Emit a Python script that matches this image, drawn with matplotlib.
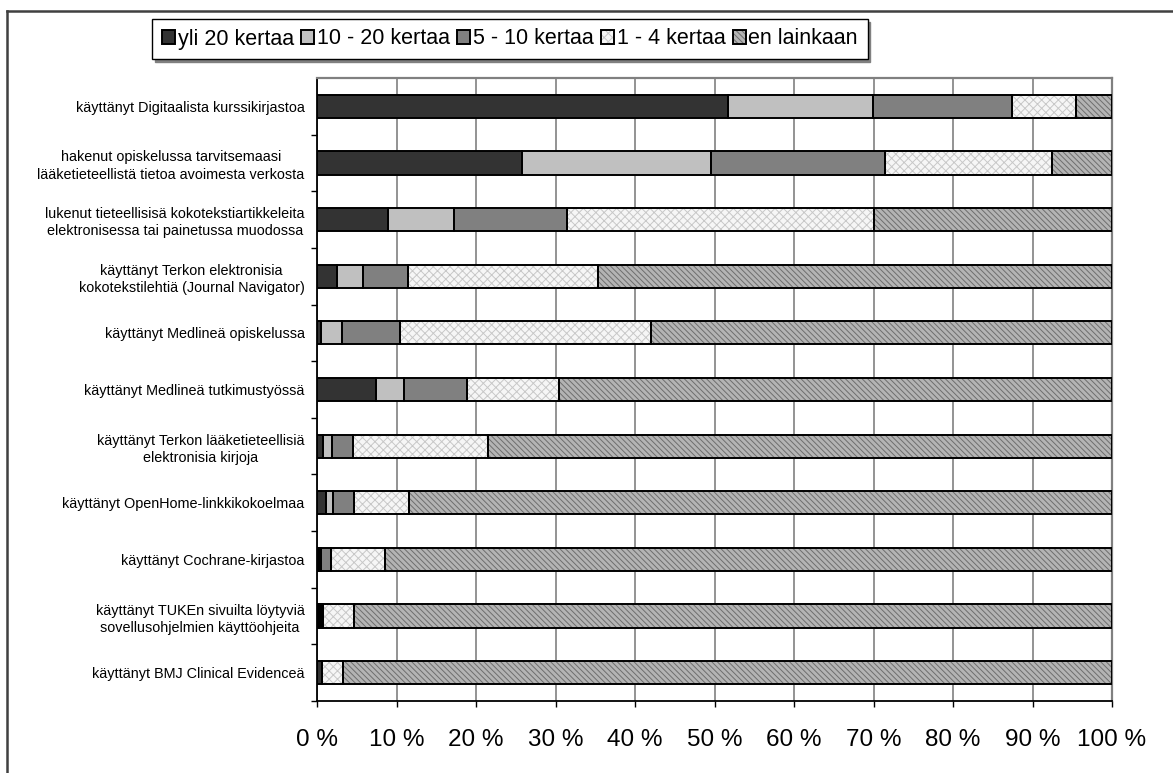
import matplotlib
matplotlib.use('Agg')
from matplotlib import pyplot as plt
from matplotlib.legend_handler import HandlerTuple
from matplotlib.lines import Line2D

plt.rcParams['font.family'] = ['Liberation Sans', 'DejaVu Sans']
plt.rcParams['hatch.linewidth'] = 0.7

categories = ['käyttänyt Digitaalista kurssikirjastoa',
              'hakenut opiskelussa tarvitsemaasi\nlääketieteellistä tietoa avoimesta verkosta',
              'lukenut tieteellisisä kokotekstiartikkeleita\nelektronisessa tai painetussa muodossa',
              'käyttänyt Terkon elektronisia\nkokotekstilehtiä (Journal Navigator)',
              'käyttänyt Medlineä opiskelussa',
              'käyttänyt Medlineä tutkimustyössä',
              'käyttänyt Terkon lääketieteellisiä\nelektronisia kirjoja',
              'käyttänyt OpenHome-linkkikokoelmaa',
              'käyttänyt Cochrane-kirjastoa',
              'käyttänyt TUKEn sivuilta löytyviä\nsovellusohjelmien käyttöohjeita',
              'käyttänyt BMJ Clinical Evidenceä']
series_names = ['yli 20 kertaa', '10 - 20 kertaa', '5 - 10 kertaa', '1 - 4 kertaa', 'en lainkaan']
yli20 = [51.7, 25.8, 8.9, 2.5, 0.5, 7.4, 0.7, 1.1, 0.3, 0.3, 0.6]
k10_20 = [18.2, 23.8, 8.3, 3.3, 2.6, 3.6, 1.2, 0.9, 0.2, 0.2, 0.0]
k5_10 = [17.5, 21.8, 14.3, 5.7, 7.4, 7.9, 2.6, 2.7, 1.3, 0.3, 0.0]
k1_4 = [8.1, 21.0, 38.5, 23.9, 31.5, 11.5, 17.0, 6.9, 6.7, 3.9, 2.7]
en_lainkaan = [4.5, 7.6, 30.0, 64.6, 58.0, 69.6, 78.5, 88.4, 91.5, 95.3, 96.7]
xticks = [0, 10, 20, 30, 40, 50, 60, 70, 80, 90, 100]

series = [yli20, k10_20, k5_10, k1_4, en_lainkaan]
faces = ['#333333', '#C0C0C0', '#808080', '#F6F6F6', '#B4B4B4']
hatches = [None, None, None, 'xxxx', '\\\\\\\\\\\\']
hatch_cols = ['#333333', '#C0C0C0', '#808080', '#C8C8C8', '#6E6E6E']

fig = plt.figure(figsize=(11.73, 7.73), dpi=100)
ax = fig.add_axes([317 / 1173, 72 / 773, 795 / 1173, 623 / 773])

ypos = list(range(len(categories)))
left = [0.0] * len(categories)
handles = []
for vals, fc, h, hc in zip(series, faces, hatches, hatch_cols):
    b1 = ax.barh(ypos, vals, left=left, height=0.41, color=fc, hatch=h,
                 edgecolor=hc, linewidth=0, zorder=2)
    b2 = ax.barh(ypos, vals, left=left, height=0.41, fill=False,
                 edgecolor='black', linewidth=1.4, zorder=3)
    handles.append((b1, b2))
    left = [a + v for a, v in zip(left, vals)]

ax.set_xlim(0, 100)
ax.set_ylim(len(categories) - 0.5, -0.5)
ax.set_xticks(xticks)
ax.set_xticklabels([f'{t} %' for t in xticks], fontsize=17.5)
ax.tick_params(axis='x', length=4, width=1, pad=16, colors='black')
ax.xaxis.grid(True, color='#808080', linewidth=1.2, zorder=0)
ax.set_axisbelow(True)

ax.set_yticks(ypos)
ax.set_yticklabels(categories, fontsize=10.4, ha='right', multialignment='center',
                   linespacing=1.3)
ax.tick_params(axis='y', which='major', length=0, pad=9)
ax.set_yticks([i - 0.5 for i in range(1, len(categories) + 1)], minor=True)
ax.tick_params(axis='y', which='minor', length=4, width=1, color='black')

for s in ['left', 'bottom']:
    ax.spines[s].set_color('black')
    ax.spines[s].set_linewidth(1.3)
for s in ['top', 'right']:
    ax.spines[s].set_color('#808080')
    ax.spines[s].set_linewidth(1.6)

leg = fig.legend(handles, series_names, loc='center', bbox_to_anchor=(510 / 1173, 1 - 39 / 773),
                 ncol=5, fontsize=15.5, frameon=True, fancybox=False,
                 shadow={'color': '#808080', 'alpha': 1.0},
                 handler_map={tuple: HandlerTuple(ndivide=1)},
                 handlelength=0.6, handleheight=0.6, handletextpad=0.12,
                 columnspacing=0.35, borderpad=0.45, borderaxespad=0)
leg.get_frame().set_edgecolor('black')
leg.get_frame().set_linewidth(1.0)

# outer chart border
fig.add_artist(Line2D([7 / 1173, 1.0], [1 - 11 / 773, 1 - 11 / 773], color='#404040',
                      linewidth=1.8, transform=fig.transFigure))
fig.add_artist(Line2D([7 / 1173, 7 / 1173], [0, 1 - 11 / 773], color='#404040',
                      linewidth=1.8, transform=fig.transFigure))

plt.savefig('out.png', dpi=100)
plt.close(fig)
